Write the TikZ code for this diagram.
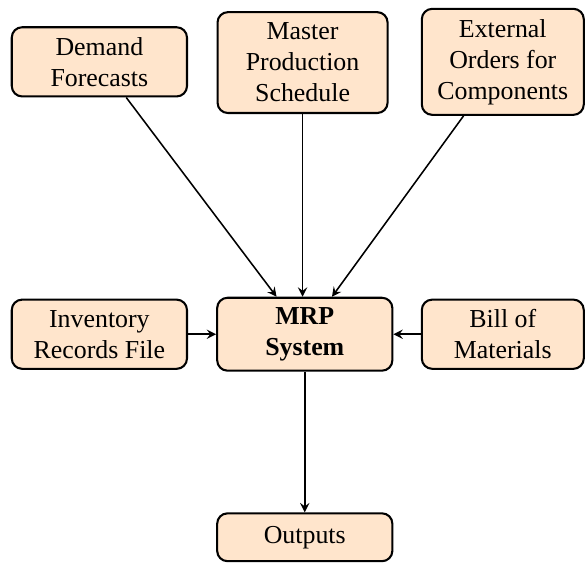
\documentclass[tikz,border=0pt]{standalone}
\usepackage{fontspec}
\setmainfont{Liberation Serif}
\usetikzlibrary{positioning}

\tikzset{
  box/.style={draw, thick, rounded corners, fill=orange!20, align=center,
    minimum width=2.38cm, minimum height=0.65cm, inner sep=2pt},
}

\begin{document}
\begin{tikzpicture}[>=stealth, semithick]
\useasboundingbox (-4.14,-3.11) rectangle (3.82,4.54);

% nodes
\node[box, minimum height=0.99cm] (mrp) {\textbf{MRP}\\\textbf{System}};
\node[box, minimum height=0.94cm] (inv) at (-2.79,0) {Inventory\\Records File};
\node[box, minimum width=2.2cm, minimum height=0.94cm] (bom) at (2.69,0) {Bill of\\Materials};
\node[box, minimum height=0.94cm] (dem) at (-2.79,3.70) {Demand\\Forecasts};
\node[box, minimum width=2.31cm, minimum height=1.37cm] (mps) at (-0.03,3.69) {Master\\Production\\Schedule};
\node[box, minimum width=2.2cm, minimum height=1.44cm] (ext) at (2.69,3.70) {External\\Orders for\\Components};
\node[box] (out) [below=1.91cm of mrp] {Outputs};

% arrows
\draw[->] (dem) -- (mrp);
\draw[->] (mps) -- (mps |- mrp.north);
\draw[->] (ext) -- (mrp);
\draw[->] (inv) -- (mrp);
\draw[->] (bom) -- (mrp);
\draw[->] (mrp) -- (out);
\end{tikzpicture}
\end{document}
